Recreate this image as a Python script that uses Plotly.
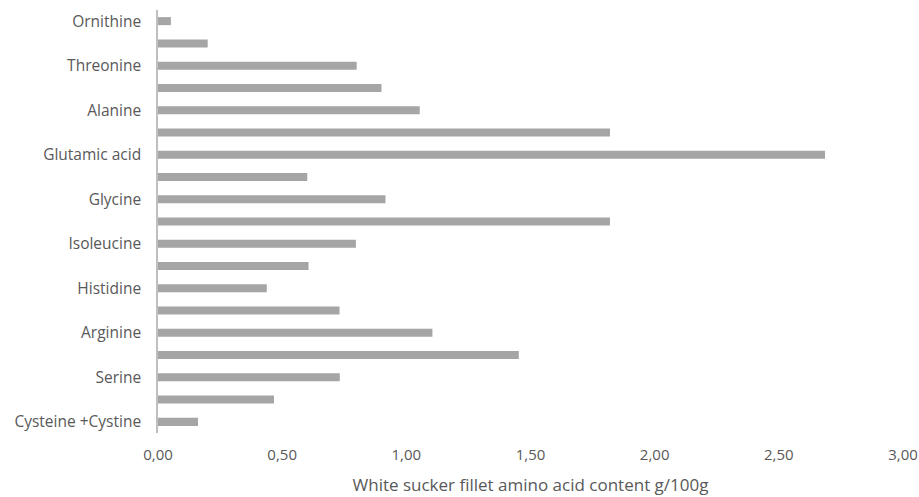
import plotly.graph_objects as go

# bottom-to-top order as drawn
categories = ["Cysteine +Cystine", "Methionine", "Serine", "Leucine", "Arginine",
              "Phenylalanine", "Histidine", "Tyrosine", "Isoleucine", "Lysine",
              "Glycine", "Proline", "Glutamic acid", "Aspartic acid", "Alanine",
              "Valine", "Threonine", "Taurine", "Ornithine"]
values = [0.161, 0.467, 0.732, 1.453, 1.105,
          0.731, 0.438, 0.606, 0.797, 1.82,
          0.916, 0.601, 2.686, 1.82, 1.054,
          0.90, 0.80, 0.20, 0.052]
shown_labels = ["Cysteine +Cystine", "Serine", "Arginine", "Histidine", "Isoleucine",
                "Glycine", "Glutamic acid", "Alanine", "Threonine", "Ornithine"]
x_ticks = [0, 0.5, 1.0, 1.5, 2.0, 2.5, 3.0]
x_tick_text = ["0,00", "0,50", "1,00", "1,50", "2,00", "2,50", "3,00"]
x_title = "White sucker fillet amino acid content g/100g"

font_family = "Open Sans, Liberation Sans, sans-serif"
text_color = "#595959"

fig = go.Figure(go.Bar(
    x=values, y=categories, orientation="h",
    marker=dict(color="#a5a5a5", line=dict(width=0)),
))

fig.update_layout(
    width=919, height=497,
    margin=dict(l=158, r=16, t=10, b=64),
    paper_bgcolor="white", plot_bgcolor="white",
    bargap=0.64,
    showlegend=False,
    font=dict(family=font_family, color=text_color, size=15),
)
fig.update_xaxes(
    range=[0, 3.0], tickvals=x_ticks, ticktext=x_tick_text,
    showgrid=False, zeroline=False, showline=False,
    ticks="", ticklabelstandoff=11, tickfont=dict(size=15, color=text_color),
    title=dict(text=x_title, font=dict(size=17, color=text_color), standoff=16),
    automargin=False,
)
fig.update_yaxes(
    categoryorder="array", categoryarray=categories,
    tickmode="array", tickvals=shown_labels, ticktext=shown_labels,
    showgrid=False, zeroline=False,
    showline=True, linecolor="#bfbfbf", linewidth=1.5,
    ticks="", ticklabelstandoff=12,
    tickfont=dict(size=15.5, color=text_color),
    automargin=False,
)

fig.write_html("out.html")
